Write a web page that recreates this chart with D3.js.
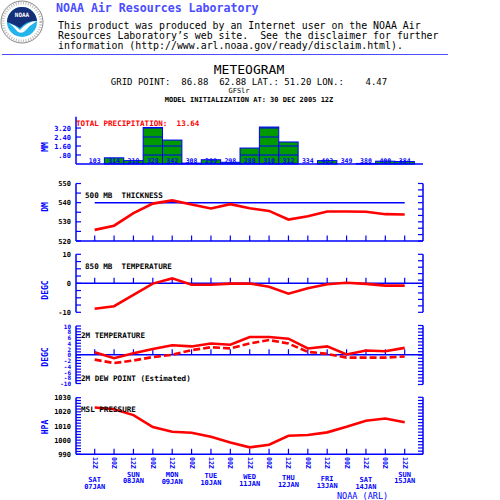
<!DOCTYPE html>
<html>
<head>
<meta charset="utf-8">
<script src="https://cdn.jsdelivr.net/npm/d3@7"></script>
<style>
  body { margin: 0; background: #fff; }
  text { font-family: "DejaVu Sans Mono", monospace; }
</style>
</head>
<body>
<div id="chart"></div>
<script>
// forecast times, every 12 hours
const timeLabels = ["12Z","00Z","12Z","00Z","12Z","00Z","12Z","00Z","12Z","00Z","12Z","00Z","12Z","00Z","12Z","00Z","12Z"];
const dayNames = ["SAT","SUN","MON","TUE","WED","THU","FRI","SAT","SUN"];
const dayDates = ["07JAN","08JAN","09JAN","10JAN","11JAN","12JAN","13JAN","14JAN","15JAN"];

// values
const precip = [0, 0.55, 0.3, 3.25, 2.13, 0.08, 0.38, 0.15, 1.42, 3.29, 1.96, 0, 0.3, 0, 0.05, 0.25, 0.22];
const precipCodes = ["103","314","318","328","342","308","299","298","288","310","312","334","403","349","380","400","384"];
const thickness = [525.8, 528.0, 534.5, 539.5, 541.2, 539.0, 537.0, 539.2, 537.1, 535.7, 531.2, 532.9, 535.4, 535.4, 535.3, 534.0, 533.8];
const t850 = [-8.8, -7.9, -4.0, -0.1, 1.7, -0.5, -0.5, -0.1, -0.1, -1.2, -3.6, -1.7, -0.3, 0.2, -0.2, -0.8, -0.8];
const t2m = [0.9, -1.2, 0.5, 2.0, 3.3, 2.9, 3.9, 3.5, 6.2, 6.2, 5.6, 2.2, 2.9, 0.1, 1.5, 1.2, 2.4];
const td2m = [-1.7, -2.9, -2.0, -0.8, 0.0, 1.6, 2.6, 2.2, 3.9, 5.1, 3.9, 1.0, 0.3, -1.0, -1.0, -1.0, -0.6];
const mslp = [1023.1, 1021.9, 1017.7, 1009.2, 1005.9, 1005.2, 1002.4, 998.4, 994.9, 996.8, 1003.1, 1003.6, 1005.5, 1009.4, 1013.7, 1015.3, 1012.7];

const blue = "#0000ff", red = "#ff0000", green = "#009900";
const weekdays = ["SUN","MON","TUE","WED","THU","FRI","SAT"];

const svg = d3.select("#chart").append("svg")
  .attr("width", 500).attr("height", 500);

// ---- header ----
const logo = svg.append("g").attr("transform", "translate(22,22)");
logo.append("circle").attr("r", 21).attr("fill", "#fff").attr("stroke", "#888").attr("stroke-width", 1);
logo.append("circle").attr("r", 19).attr("fill", "none").attr("stroke", "#bbb").attr("stroke-width", 3).attr("stroke-dasharray", "1,1.5");
logo.append("circle").attr("r", 15).attr("fill", "#22b4ea");
logo.append("path").attr("d", "M-15,0 A15,15 0 0 1 15,0 L15,-1 Q5,-2 -2,6 Q-9,2 -15,0 Z").attr("fill", "#15307a");
logo.append("path").attr("d", "M-13,1 Q-7,3 -2,8 Q6,-1 15,-1 Q8,3 3,9 Q0,12 -4,10 Q-8,5 -13,1 Z").attr("fill", "#fff");
logo.append("text").attr("x", 0).attr("y", -5).attr("text-anchor", "middle")
  .attr("font-size", 6).attr("font-weight", "bold").attr("fill", "#fff").text("NOAA");

svg.append("text").attr("x", 56).attr("y", 12).attr("font-size", 11.6).attr("font-weight", "bold")
  .attr("fill", "#4b4bff").text("NOAA Air Resources Laboratory");
const disclaimer = [
  "This product was produced by an Internet user on the NOAA Air",
  "Resources Laboratory\u2019s web site.  See the disclaimer for further",
  "information (http://www.arl.noaa.gov/ready/disclaim.html)."
];
svg.selectAll(".disc").data(disclaimer).enter().append("text")
  .attr("x", 58).attr("y", (d, i) => 29 + i * 10)
  .attr("font-size", 9.9).attr("fill", "#000").attr("xml:space", "preserve").text(d => d);
svg.append("line").attr("x1", 2).attr("x2", 448).attr("y1", 54.5).attr("y2", 54.5)
  .attr("stroke", "#4b4bff").attr("stroke-width", 1);

svg.append("text").attr("x", 249).attr("y", 74).attr("text-anchor", "middle")
  .attr("font-size", 13).text("METEOGRAM");
svg.append("text").attr("x", 249).attr("y", 85).attr("text-anchor", "middle")
  .attr("font-size", 9).attr("xml:space", "preserve").text("GRID POINT:  86.88  62.88 LAT.: 51.20 LON.:    4.47");
svg.append("text").attr("x", 239).attr("y", 93).attr("text-anchor", "middle")
  .attr("font-size", 7).text("GFSlr");
svg.append("text").attr("x", 249).attr("y", 102).attr("text-anchor", "middle")
  .attr("font-size", 7).attr("font-weight", "bold").text("MODEL INITIALIZATION AT: 30 DEC 2005 12Z");

// ---- shared x scale ----
const x = d3.scaleLinear().domain([0, timeLabels.length - 1]).range([94.7, 404.7]);
const step = x(1) - x(0);
const xLeft = 76, xRight = 423;
const idx = d3.range(timeLabels.length);

function leftAxis(y, values, labels, opts = {}) {
  const g = svg.append("g");
  const [y0, y1] = y.range();
  g.append("line").attr("x1", xLeft).attr("x2", xLeft).attr("y1", y0).attr("y2", y1)
    .attr("stroke", blue).attr("stroke-width", 1.5);
  g.selectAll(".t").data(values).enter().append("line")
    .attr("x1", xLeft).attr("x2", xLeft + 5).attr("y1", d => y(d)).attr("y2", d => y(d))
    .attr("stroke", blue).attr("stroke-width", 1.2);
  g.selectAll(".l").data(labels).enter().append("text")
    .attr("x", xLeft - 5).attr("y", d => y(d) + 2.5).attr("text-anchor", "end")
    .attr("font-size", opts.size || 7).attr("font-weight", "bold")
    .attr("fill", opts.color || "#000").text(d => opts.fmt ? opts.fmt(d) : d);
}

function rightAxis(yTop, yBot, n) {
  const g = svg.append("g");
  g.append("line").attr("x1", xRight).attr("x2", xRight).attr("y1", yTop).attr("y2", yBot)
    .attr("stroke", blue).attr("stroke-width", 1.5);
  const ys = d3.range(n + 1).map(i => yTop + (yBot - yTop) * i / n);
  g.selectAll("line.t").data(ys).enter().append("line")
    .attr("x1", xRight - 5).attr("x2", xRight).attr("y1", d => d).attr("y2", d => d)
    .attr("stroke", blue).attr("stroke-width", 1.2);
}

function xAxisLine(yy, ticks = true) {
  svg.append("line").attr("x1", xLeft).attr("x2", xRight).attr("y1", yy).attr("y2", yy)
    .attr("stroke", blue).attr("stroke-width", 1.5);
  if (ticks) {
    svg.append("g").selectAll("line").data(idx).enter().append("line")
      .attr("x1", d => x(d)).attr("x2", d => x(d)).attr("y1", yy).attr("y2", yy - 5.5)
      .attr("stroke", blue).attr("stroke-width", 1.2);
  }
}

function unitLabel(text, cy) {
  svg.append("text").attr("transform", `translate(48,${cy}) rotate(-90)`)
    .attr("text-anchor", "middle").attr("font-size", 8).attr("font-weight", "bold")
    .attr("fill", blue).text(text);
}

function panelLabel(text, xx, yy, color = "#000") {
  svg.append("text").attr("x", xx).attr("y", yy).attr("font-size", 7.6).attr("font-weight", "bold")
    .attr("fill", color).attr("xml:space", "preserve").text(text);
}

function drawLine(y, data, dash) {
  svg.append("path").datum(data)
    .attr("d", d3.line().x((d, i) => x(i)).y(d => y(d)))
    .attr("fill", "none").attr("stroke", red).attr("stroke-width", 2.6)
    .attr("stroke-dasharray", dash || null);
}

// ---- precipitation ----
const yP = d3.scaleLinear().domain([0, 4.2]).range([164, 116.8]);
const pGrid = [0.8, 1.6, 2.4, 3.2];
const bars = svg.append("g");
bars.selectAll("rect").data(precip.map((v, i) => ({ v, i })).filter(d => d.v > 0)).enter().append("rect")
  .attr("x", d => x(d.i) - step / 2).attr("width", step)
  .attr("y", d => yP(d.v)).attr("height", d => yP(0) - yP(d.v))
  .attr("fill", green).attr("stroke", blue).attr("stroke-width", 1);
precip.forEach((v, i) => {
  bars.selectAll(null).data(pGrid.filter(g => g < v)).enter().append("line")
    .attr("x1", x(i) - step / 2).attr("x2", x(i) + step / 2)
    .attr("y1", g => yP(g)).attr("y2", g => yP(g))
    .attr("stroke", blue).attr("stroke-width", 1);
});
svg.append("g").selectAll("text").data(precipCodes).enter().append("text")
  .attr("x", (d, i) => x(i)).attr("y", 163).attr("text-anchor", "middle")
  .attr("font-size", 6.5).attr("font-weight", "bold").attr("fill", blue).text(d => d);
leftAxis(yP, pGrid, pGrid, { color: blue, fmt: d => d3.format(".2f")(d).replace(/^0/, "") });
xAxisLine(164, false);
unitLabel("MM", 147);
panelLabel("TOTAL PRECIPITATION:  13.64", 76, 126, red);

// ---- 500 mb thickness ----
const yT = d3.scaleLinear().domain([520, 550]).range([241, 183.5]);
leftAxis(yT, d3.range(520, 551, 5), [550, 540, 530, 520]);
rightAxis(183.5, 241, 9);
xAxisLine(241);
svg.append("line").attr("x1", x(0)).attr("x2", x(16)).attr("y1", yT(540)).attr("y2", yT(540))
  .attr("stroke", blue).attr("stroke-width", 1.5);
drawLine(yT, thickness);
unitLabel("DM", 207);
panelLabel("500 MB  THICKNESS", 85, 198);

// ---- 850 mb temperature ----
const y8 = d3.scaleLinear().domain([-10, 10]).range([312.3, 254.3]);
leftAxis(y8, d3.range(-10, 10.1, 2.5), [10, 0, -10]);
rightAxis(254.3, 312.3, 9);
xAxisLine(y8(0));
drawLine(y8, t850);
unitLabel("DEGC", 290);
panelLabel("850 MB  TEMPERATURE", 85, 269);

// ---- 2 m temperature / dew point ----
const y2 = d3.scaleLinear().domain([-10, 10]).range([383.5, 326]);
leftAxis(y2, d3.range(-10, 11, 1), d3.range(10, -11, -2), { color: blue, size: 6 });
rightAxis(325.5, 384.5, 18);
xAxisLine(y2(0));
drawLine(y2, t2m);
drawLine(y2, td2m, "7,3");
unitLabel("DEGC", 357);
panelLabel("2M TEMPERATURE", 81, 338);
panelLabel("2M DEW POINT (Estimated)", 81, 381);

// ---- MSL pressure ----
const yM = d3.scaleLinear().domain([990, 1030]).range([454.3, 397.7]);
leftAxis(yM, d3.range(990, 1031, 2), [1030, 1020, 1010, 1000, 990]);
rightAxis(397.3, 454.3, 18);
xAxisLine(454.3);
drawLine(yM, mslp);
unitLabel("HPA", 427);
panelLabel("MSL PRESSURE", 81, 412);

// ---- time labels ----
svg.append("g").selectAll("text").data(timeLabels).enter().append("text")
  .attr("transform", (d, i) => `translate(${x(i) - 2},457) rotate(90)`)
  .attr("font-size", 6.5).attr("font-weight", "bold").attr("fill", blue).text(d => d);

// day names step down a pixel per weekday, as in the original plot
const days = svg.append("g");
dayNames.forEach((name, k) => {
  const cx = x(k * 2);
  const dy = weekdays.indexOf(name) * 0.95;
  days.append("text").attr("x", cx).attr("y", 476.5 + dy).attr("text-anchor", "middle")
    .attr("font-size", 7).attr("font-weight", "bold").attr("fill", blue).text(name);
  days.append("text").attr("x", cx).attr("y", 483 + dy).attr("text-anchor", "middle")
    .attr("font-size", 7).attr("font-weight", "bold").attr("fill", blue).text(dayDates[k]);
});

svg.append("text").attr("x", 337).attr("y", 498.5).attr("font-size", 8.5)
  .attr("fill", blue).text("NOAA (ARL)");
</script>
</body>
</html>
